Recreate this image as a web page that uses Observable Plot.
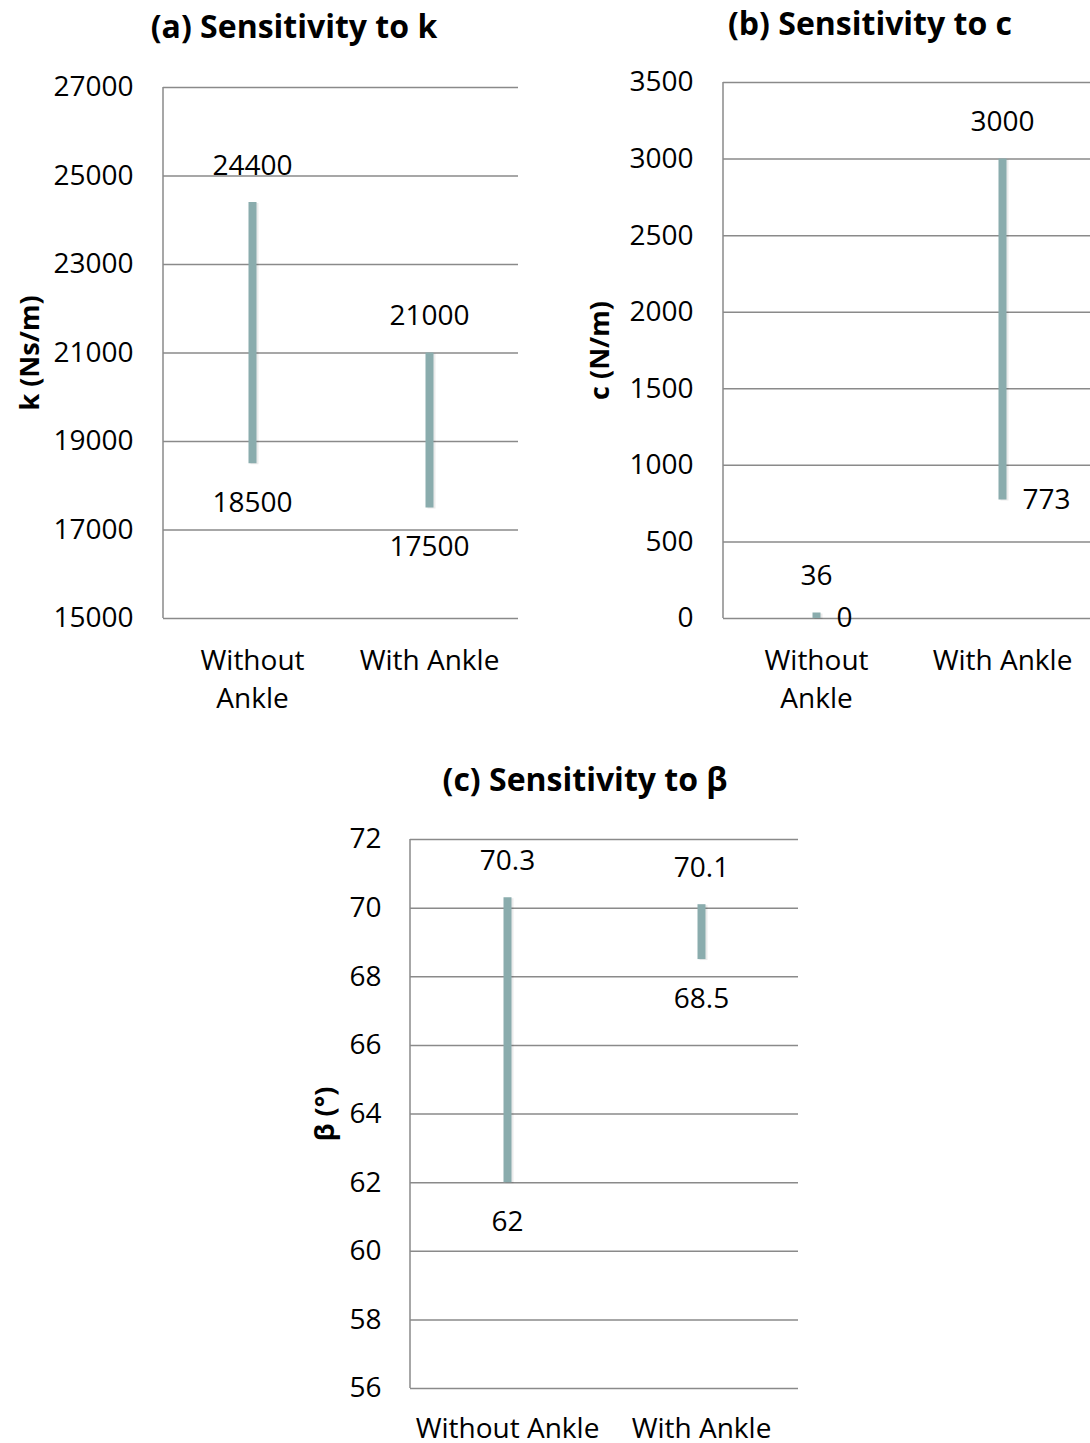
<!DOCTYPE html>
<html>
<head>
<meta charset="utf-8">
<script src="https://cdn.jsdelivr.net/npm/d3@7"></script>
<script src="https://cdn.jsdelivr.net/npm/@observablehq/plot@0.6"></script>
<style>
  html, body { margin: 0; padding: 0; background: #fff; }
  #root { position: relative; width: 1090px; height: 1443px; overflow: hidden; background: #fff; font-family: "Open Sans", sans-serif; }
  .panel { position: absolute; }
  .panel svg { max-width: none !important; }
  .title { position: absolute; transform: translate(-50%, -50%); white-space: nowrap; font-family: "Open Sans", sans-serif; font-weight: 700; font-size: 32px; color: #000; }
</style>
</head>
<body>
<div id="root"></div>
<script>
// ---- data ----
const categories = ["Without Ankle", "With Ankle"];
const wrappedLabels = ["Without\nAnkle", "With Ankle"];
const singleLabels = ["Without Ankle", "With Ankle"];

const kLow = [18500, 17500];
const kHigh = [24400, 21000];
const kTicks = [15000, 17000, 19000, 21000, 23000, 25000, 27000];

const cLow = [0, 773];
const cHigh = [36, 3000];
const cTicks = [0, 500, 1000, 1500, 2000, 2500, 3000, 3500];

const betaLow = [62, 68.5];
const betaHigh = [70.3, 70.1];
const betaTicks = [56, 58, 60, 62, 64, 66, 68, 70, 72];

const titles = ["(a) Sensitivity to k", "(b) Sensitivity to c", "(c) Sensitivity to β"];
const yLabels = ["k (Ns/m)", "c (N/m)", "β (°)"];

// ---- styling ----
const BAR = "#8aacad";
const GRID = "#8a8a8a";
const svgStyle = "font-family: 'Open Sans', sans-serif; font-size: 28px; color: #000; background: transparent; overflow: visible; max-width: none;";

const leftLine = (index, scales, values, dims) => {
  const l = document.createElementNS("http://www.w3.org/2000/svg", "line");
  l.setAttribute("x1", dims.marginLeft);
  l.setAttribute("x2", dims.marginLeft);
  l.setAttribute("y1", dims.marginTop);
  l.setAttribute("y2", dims.height - dims.marginBottom);
  l.setAttribute("stroke", GRID);
  l.setAttribute("stroke-width", 1.5);
  return l;
};

function makeRows(low, high) {
  return categories.map((c, i) => ({cat: c, low: low[i], high: high[i]}));
}

function panel(opts) {
  const rows = makeRows(opts.low, opts.high);
  const labelMap = new Map(categories.map((c, i) => [c, opts.tickLabels[i]]));
  const marks = [
    Plot.gridY(opts.ticks, {stroke: GRID, strokeOpacity: 1, strokeWidth: 1.5}),
    leftLine,
    Plot.axisY({ticks: opts.ticks, tickSize: 0, tickPadding: opts.tickPadY, label: null, fontSize: 28, tickFormat: d => String(d)}),
    Plot.axisX({tickSize: 0, tickPadding: opts.tickPadX, label: null, fontSize: 28, lineHeight: 1.36, tickFormat: d => labelMap.get(d)}),
    Plot.ruleX(rows, {x: "cat", y1: "low", y2: "high", stroke: "#000", strokeOpacity: 0.08, strokeWidth: 8, dx: 2, dy: 1}),
    Plot.ruleX(rows, {x: "cat", y1: "low", y2: "high", stroke: BAR, strokeWidth: 8}),
    Plot.text(rows, {x: "cat", y: "high", text: d => String(d.high), dy: -37, fontSize: 28, fill: "#000"}),
    Plot.text([opts.yLabel], {frameAnchor: "left", textAnchor: "middle", text: d => d, rotate: -90, dx: opts.yLabelDx, fontSize: 27, fontWeight: "bold", fill: "#000"})
  ];
  if (opts.lowRight) {
    marks.push(Plot.text(rows, {x: "cat", y: "low", text: d => String(d.low), dx: 20, textAnchor: "start", fontSize: 28, fill: "#000"}));
  } else {
    marks.push(Plot.text(rows, {x: "cat", y: "low", text: d => String(d.low), dy: 39, fontSize: 28, fill: "#000"}));
  }
  const svg = Plot.plot({
    width: opts.width,
    height: opts.height,
    marginLeft: opts.marginLeft,
    marginRight: opts.marginRight,
    marginTop: opts.marginTop,
    marginBottom: opts.marginBottom,
    style: svgStyle,
    x: {type: "point", domain: categories, padding: 0.5, axis: null},
    y: {domain: opts.domain, axis: null},
    marks
  });
  const wrap = document.createElement("div");
  wrap.className = "panel";
  wrap.style.left = opts.left + "px";
  wrap.style.top = opts.top + "px";
  wrap.style.width = opts.width + "px";
  wrap.style.height = opts.height + "px";
  wrap.appendChild(svg);
  return wrap;
}

function addTitle(text, cx, cy) {
  const t = document.createElement("div");
  t.className = "title";
  t.textContent = text;
  t.style.left = cx + "px";
  t.style.top = cy + "px";
  root.appendChild(t);
}

const root = document.getElementById("root");

root.appendChild(panel({
  low: kLow, high: kHigh, ticks: kTicks, domain: [15000, 27000],
  yLabel: yLabels[0], yLabelDx: -133, tickLabels: wrappedLabels,
  left: 0, top: 60, width: 545, height: 658,
  marginLeft: 163, marginRight: 27, marginTop: 27, marginBottom: 100,
  tickPadY: 30, tickPadX: 24, lowRight: false
}));
addTitle(titles[0], 294, 25);

root.appendChild(panel({
  low: cLow, high: cHigh, ticks: cTicks, domain: [0, 3500],
  yLabel: yLabels[1], yLabelDx: -123, tickLabels: wrappedLabels,
  left: 560, top: 60, width: 540, height: 658,
  marginLeft: 163, marginRight: 5, marginTop: 22, marginBottom: 100,
  tickPadY: 30, tickPadX: 24, lowRight: true
}));
addTitle(titles[1], 870, 22);

root.appendChild(panel({
  low: betaLow, high: betaHigh, ticks: betaTicks, domain: [56, 72],
  yLabel: yLabels[2], yLabelDx: -85, tickLabels: singleLabels,
  left: 250, top: 815, width: 570, height: 628,
  marginLeft: 160, marginRight: 22, marginTop: 24, marginBottom: 55,
  tickPadY: 29, tickPadX: 22, lowRight: false
}));
addTitle(titles[2], 585, 778);
</script>
</body>
</html>
